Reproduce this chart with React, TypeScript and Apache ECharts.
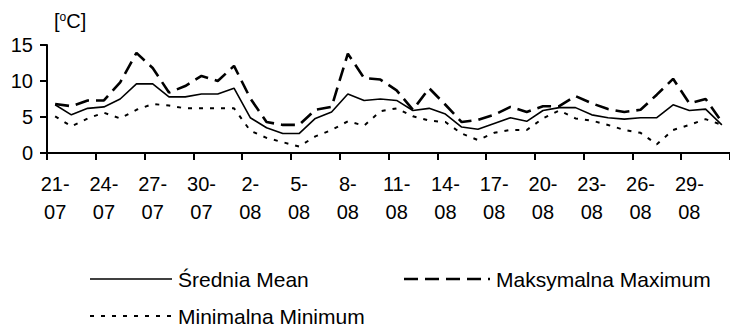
import React, { useEffect, useRef } from "react";
import * as echarts from "echarts";

const dates = [
  "21-07", "22-07", "23-07", "24-07", "25-07", "26-07", "27-07", "28-07", "29-07", "30-07", "31-07",
  "1-08", "2-08", "3-08", "4-08", "5-08", "6-08", "7-08", "8-08", "9-08", "10-08",
  "11-08", "12-08", "13-08", "14-08", "15-08", "16-08", "17-08", "18-08", "19-08", "20-08",
  "21-08", "22-08", "23-08", "24-08", "25-08", "26-08", "27-08", "28-08", "29-08", "30-08", "31-08",
];

const meanTemp = [
  6.7, 5.3, 6.2, 6.4, 7.5, 9.6, 9.6, 7.8, 7.8, 8.2, 8.2,
  9.0, 4.9, 3.5, 2.7, 2.7, 4.8, 5.7, 8.2, 7.3, 7.5,
  7.3, 5.9, 6.2, 5.4, 3.6, 3.3, 4.1, 4.9, 4.4, 5.9,
  6.3, 6.3, 5.3, 4.9, 4.7, 4.9, 4.9, 6.7, 5.9, 6.1, 3.9,
];

const maxTemp = [
  6.8, 6.5, 7.3, 7.3, 9.8, 13.9, 11.8, 8.4, 9.3, 10.7, 10.0,
  12.1, 7.6, 4.3, 3.9, 3.9, 6.0, 6.4, 13.8, 10.4, 10.2,
  8.7, 6.0, 9.0, 6.7, 4.3, 4.6, 5.3, 6.4, 5.7, 6.5,
  6.5, 7.9, 6.9, 6.1, 5.7, 6.0, 8.1, 10.3, 6.9, 7.5, 4.3,
];

const minTemp = [
  5.1, 3.7, 4.8, 5.6, 4.8, 6.0, 6.8, 6.6, 6.2, 6.2, 6.2,
  6.2, 3.1, 2.1, 1.5, 0.9, 2.3, 3.2, 4.4, 3.8, 5.8,
  6.2, 5.1, 4.5, 4.3, 2.7, 1.8, 2.8, 3.2, 3.2, 4.8,
  5.9, 4.8, 4.5, 3.9, 3.2, 2.8, 1.2, 3.2, 3.9, 4.7, 3.9,
];

const seriesNames = ["Średnia Mean", "Maksymalna Maximum", "Minimalna Minimum"];
const unitLabel = "[{s|o}C]";
const yMin = 0;
const yMax = 15;
const yStep = 5;

const FONT = "'Liberation Sans', Arial, sans-serif";

const lineStyles = [
  { width: 1.6, dash: null as number[] | null },
  { width: 2.6, dash: [14, 7] },
  { width: 2, dash: [4, 7] },
];

// legend placement (pixels)
const legendPos = [
  { x: 90, y: 279, len: 82 },
  { x: 404, y: 279, len: 86 },
  { x: 90, y: 316, len: 82 },
];

export default function App() {
  const ref = useRef<HTMLDivElement>(null);

  useEffect(() => {
    document.body.style.margin = "0";
    if (!ref.current) return;
    const chart = echarts.init(ref.current, undefined, { renderer: "svg" });

    const legendGraphics: any[] = [];
    seriesNames.forEach((name, i) => {
      const p = legendPos[i];
      const ls = lineStyles[i];
      legendGraphics.push({
        type: "line",
        shape: { x1: p.x, y1: p.y, x2: p.x + p.len, y2: p.y },
        style: {
          stroke: "#000",
          lineWidth: ls.width,
          lineDash: ls.dash || undefined,
        },
      });
      legendGraphics.push({
        type: "text",
        x: p.x + p.len + 6,
        y: p.y,
        style: {
          text: name,
          fontFamily: FONT,
          fontSize: 21,
          fill: "#000",
          verticalAlign: "middle",
          align: "left",
        },
      });
    });

    chart.setOption({
      animation: false,
      backgroundColor: "#fff",
      textStyle: { fontFamily: FONT },
      grid: { left: 47, top: 45, width: 688, height: 108, containLabel: false },
      graphic: [
        {
          type: "text",
          left: 54,
          top: 11,
          style: {
            text: unitLabel,
            fontFamily: FONT,
            fontSize: 20,
            fill: "#000",
            rich: {
              s: { fontFamily: FONT, fontSize: 12, verticalAlign: "top", padding: [0, 0, 8, 0] },
            },
          },
        },
        ...legendGraphics,
      ],
      xAxis: {
        type: "category",
        data: dates,
        boundaryGap: true,
        axisLine: { show: true, lineStyle: { color: "#000", width: 2 } },
        axisTick: { show: true, interval: 2, length: 7, lineStyle: { color: "#000", width: 2 } },
        axisLabel: {
          interval: 2,
          color: "#000",
          fontFamily: FONT,
          fontSize: 20,
          lineHeight: 28,
          margin: 17,
          formatter: (v: string) => v.replace("-", "-\n"),
        },
        splitLine: { show: false },
      },
      yAxis: {
        type: "value",
        min: yMin,
        max: yMax,
        interval: yStep,
        axisLine: { show: true, lineStyle: { color: "#000", width: 2 } },
        axisTick: { show: true, length: 7, lineStyle: { color: "#000", width: 2 } },
        axisLabel: { color: "#000", fontFamily: FONT, fontSize: 20, margin: 14 },
        splitLine: { show: false },
      },
      series: [
        {
          name: seriesNames[0],
          type: "line",
          data: meanTemp,
          symbol: "none",
          lineStyle: { color: "#000", width: lineStyles[0].width, type: "solid" },
          itemStyle: { color: "#000" },
          z: 3,
        },
        {
          name: seriesNames[1],
          type: "line",
          data: maxTemp,
          symbol: "none",
          lineStyle: { color: "#000", width: lineStyles[1].width, type: lineStyles[1].dash },
          itemStyle: { color: "#000" },
          z: 2,
        },
        {
          name: seriesNames[2],
          type: "line",
          data: minTemp,
          symbol: "none",
          lineStyle: { color: "#000", width: lineStyles[2].width, type: lineStyles[2].dash },
          itemStyle: { color: "#000" },
          z: 2,
        },
      ],
    });
    return () => chart.dispose();
  }, []);

  return <div ref={ref} style={{ width: 730, height: 326 }} />;
}
